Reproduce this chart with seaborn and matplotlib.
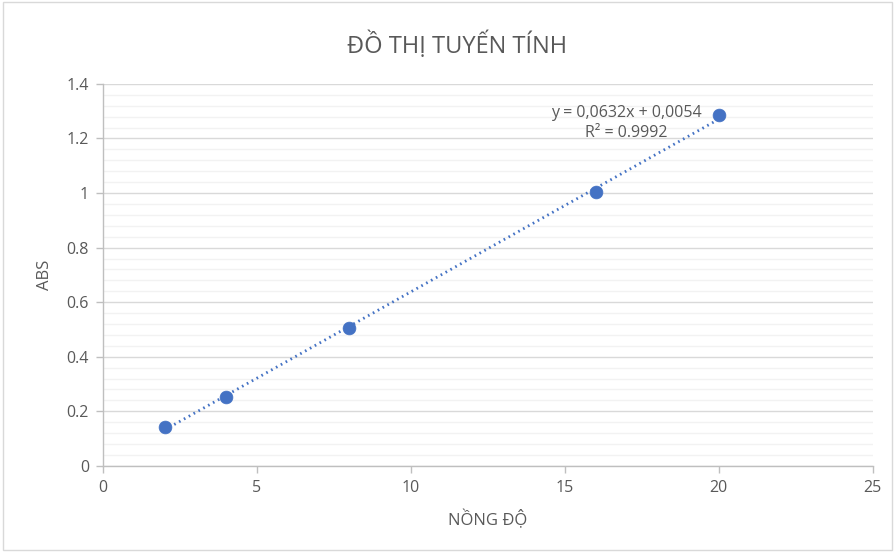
import numpy as np
import pandas as pd
import matplotlib
matplotlib.use("Agg")
import matplotlib.pyplot as plt
import seaborn as sns
from matplotlib.ticker import MultipleLocator

conc = [2, 4, 8, 16, 20]
abs_vals = [0.143, 0.254, 0.505, 1.002, 1.285]
title = "ĐỒ THỊ TUYẾN TÍNH"
xlabel = "NỒNG ĐỘ"
ylabel = "ABS"
eq_text = "y = 0,0632x + 0,0054\nR² = 0.9992"

sns.set_theme(style="white")
plt.rcParams['font.family'] = ['Open Sans', 'DejaVu Sans']

df = pd.DataFrame({"x": conc, "y": abs_vals})

fig = plt.figure(figsize=(8.95, 5.52), dpi=100)
ax = fig.add_axes([0.115, 0.156, 0.86, 0.692])

blue = "#4472C4"
grey_txt = "#595959"

# trendline
slope, intercept = np.polyfit(conc, abs_vals, 1)
xs = np.array([min(conc), max(conc)])
tl = pd.DataFrame({"x": xs, "y": slope * xs + intercept})
sns.lineplot(data=tl, x="x", y="y", ax=ax, color=blue, lw=2,
             linestyle=(0, (0.6, 1.4)), zorder=3)
sns.scatterplot(data=df, x="x", y="y", ax=ax, color=blue, s=85,
                edgecolor=blue, linewidth=0.5, zorder=4)

ax.set_xlim(0, 25)
ax.set_ylim(0, 1.4)
ax.xaxis.set_major_locator(MultipleLocator(5))
ax.yaxis.set_major_locator(MultipleLocator(0.2))
ax.yaxis.set_minor_locator(MultipleLocator(0.04))
ax.grid(axis="y", which="major", color="#D9D9D9", lw=1.0)
ax.grid(axis="y", which="minor", color="#F2F2F2", lw=1.0)
ax.grid(axis="x", visible=False)
ax.set_axisbelow(True)

for s in ["top", "right"]:
    ax.spines[s].set_visible(False)
for s in ["left", "bottom"]:
    ax.spines[s].set_color("#BFBFBF")
    ax.spines[s].set_linewidth(1.0)

def fmt(v):
    s = f"{v:.1f}"
    if s.endswith(".0"):
        s = s[:-2]
    return s

ax.set_yticks(np.arange(0, 1.41, 0.2))
ax.set_yticklabels([fmt(v) for v in np.arange(0, 1.41, 0.2)])
ax.tick_params(axis="both", which="major", length=5, width=1, color="#BFBFBF",
               labelcolor=grey_txt, labelsize=11.5, direction="out", pad=5)
ax.tick_params(axis="y", which="minor", length=0)
ax.tick_params(left=True, bottom=True)

ax.set_xlabel(xlabel, color=grey_txt, fontsize=12, labelpad=10)
ax.set_ylabel(ylabel, color=grey_txt, fontsize=12, labelpad=10)
fig.text(0.511, 0.918, title, ha="center", va="center", color=grey_txt, fontsize=17)

ax.text(17.0, 1.257, eq_text, ha="center", va="center", color=grey_txt,
        fontsize=11.5, linespacing=1.35)

# figure border
fig.patches.append(plt.Rectangle((0.003, 0.003), 0.994, 0.994, transform=fig.transFigure,
                                 fill=False, edgecolor="#D9D9D9", lw=1))

fig.savefig("out.png", dpi=100)
